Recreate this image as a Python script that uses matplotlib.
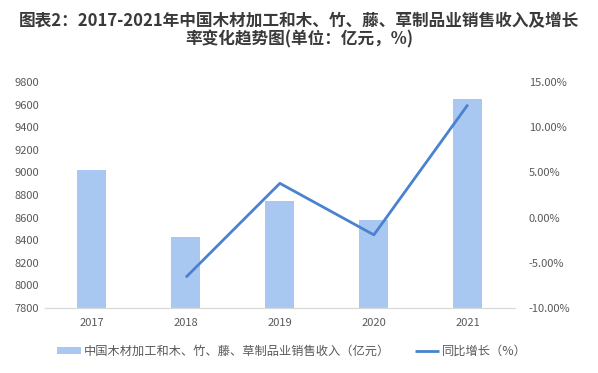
import matplotlib
matplotlib.use("Agg")
import matplotlib.pyplot as plt
from matplotlib.ticker import FuncFormatter

plt.rcParams['font.family'] = ['Noto Sans CJK SC', 'DejaVu Sans']

years = ["2017", "2018", "2019", "2020", "2021"]
revenue = [9020, 8427, 8748, 8580, 9650]          # 亿元
growth_years = ["2018", "2019", "2020", "2021"]
growth = [-6.6, 3.8, -1.9, 12.5]                  # %

bar_label = "中国木材加工和木、竹、藤、草制品业销售收入（亿元）"
line_label = "同比增长（%）"
title = "图表2：2017-2021年中国木材加工和木、竹、藤、草制品业销售收入及增长\n率变化趋势图(单位：亿元，%)"

bar_color = "#A9C8F1"
line_color = "#4A82D0"
tick_color = "#595959"

fig = plt.figure(figsize=(5.98, 3.73), dpi=100)
ax = fig.add_axes([0.075, 0.174, 0.786, 0.606])
ax2 = ax.twinx()

x = list(range(len(years)))
bars = ax.bar(x, revenue, width=0.31, color=bar_color, label=bar_label, zorder=2)
gx = [years.index(y) for y in growth_years]
line, = ax2.plot(gx, growth, color=line_color, lw=2.0, label=line_label,
                 solid_capstyle='butt', zorder=3)

ax.set_xlim(-0.5, len(years) - 0.5)
ax.set_ylim(7800, 9800)
ax.set_yticks(range(7800, 9801, 200))
ax2.set_ylim(-10, 15)
ax2.set_yticks(range(-10, 16, 5))
ax2.yaxis.set_major_formatter(FuncFormatter(lambda v, p: f"{v:.2f}%"))

ax.set_xticks(x)
ax.set_xticklabels(years)

for a in (ax, ax2):
    for s in ("top", "left", "right"):
        a.spines[s].set_visible(False)
    a.tick_params(length=0, colors=tick_color, labelsize=8)
ax2.spines["bottom"].set_visible(False)
ax.spines["bottom"].set_color("#D9D9D9")
ax.spines["bottom"].set_linewidth(0.9)
ax.tick_params(axis='x', pad=7)
ax.tick_params(axis='y', pad=4)
ax2.tick_params(axis='y', pad=10)

fig.text(0.5, 0.968, title, ha='center', va='top', fontsize=12,
         fontweight='bold', color='#3A3A3A', linespacing=1.0)

fig.legend([bars, line], [bar_label, line_label], loc='center',
           bbox_to_anchor=(0.488, 0.058), ncol=2, frameon=False,
           fontsize=8.8, labelcolor=tick_color, handlelength=2.0,
           handleheight=0.5, columnspacing=2.0, handletextpad=0.25)

fig.savefig("out.png", dpi=100)
